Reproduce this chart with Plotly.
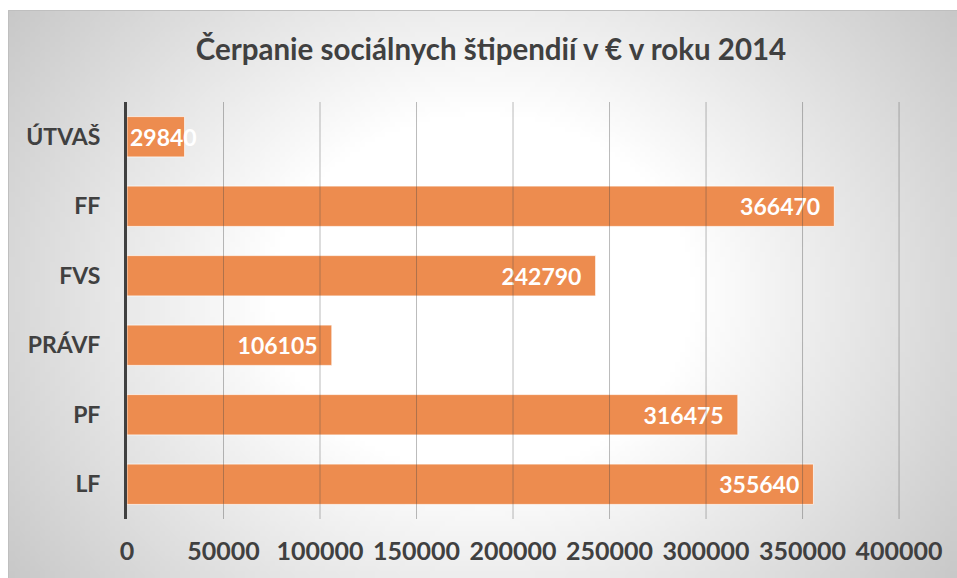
import zlib, struct, base64, math
import plotly.graph_objects as go

# ---- data ----
categories = ["ÚTVAŠ", "FF", "FVS", "PRÁVF", "PF", "LF"]
values = [29840, 366470, 242790, 106105, 316475, 355640]
tick_values = [0, 50000, 100000, 150000, 200000, 250000, 300000, 350000, 400000]
tick_labels = [str(v) for v in tick_values]
title_text = "Čerpanie sociálnych štipendií v € v roku 2014"

W, H = 957, 578
L = 127
T = 102
R = W - 928
B = H - 519
PW, PH = W - L - R, H - T - B

# ---- radial-gradient background as a small PNG ----
def png_uri(w, h, func):
    raw = bytearray()
    for j in range(h):
        raw.append(0)
        for i in range(w):
            v = func(i, j)
            raw += bytes((v, v, v))
    def chunk(t, d):
        c = struct.pack('>I', len(d)) + t + d
        return c + struct.pack('>I', zlib.crc32(t + d) & 0xffffffff)
    png = (b'\x89PNG\r\n\x1a\n'
           + chunk(b'IHDR', struct.pack('>IIBBBBB', w, h, 8, 2, 0, 0, 0))
           + chunk(b'IDAT', zlib.compress(bytes(raw), 9))
           + chunk(b'IEND', b''))
    return "data:image/png;base64," + base64.b64encode(png).decode()

gw, gh = 190, 114
def grad(i, j):
    x = (i + 0.5) / gw
    y = (j + 0.5) / gh
    dx = (x - 0.5) / 0.5
    dy = (y - 0.5) / 0.5 * 0.7
    r = math.sqrt(dx * dx + dy * dy)
    v = 255 - 71 * max(0.0, r - 0.45)
    return int(max(190, min(255, v)))

bg_uri = png_uri(gw, gh, grad)

# chart area in figure pixels
cx0, cy0, cx1, cy1 = 8, 10, W, H
def px2paper_x(p):
    return (p - L) / PW
def px2paper_y(p):
    return 1 - (p - T) / PH

font_family = "Lato, 'Open Sans', sans-serif"
txt_col = "#404040"
small = [v < 60000 for v in values]

fig = go.Figure()
fig.add_trace(go.Bar(
    y=categories, x=values, orientation="h",
    marker=dict(color="#ED8C4F", line=dict(color="rgba(255,255,255,0.7)", width=1)),
    width=0.58,
    text=["" if s else str(v) for v, s in zip(values, small)],
    texttemplate="%{text}\u00a0\u00a0",
    textposition="inside", insidetextanchor="end",
    constraintext="none", textangle=0,
    textfont=dict(family=font_family, size=23, color="white", weight="bold"),
    cliponaxis=False, hoverinfo="skip",
))
# labels that do not fit: anchored at the bar start
fig.add_trace(go.Bar(
    y=categories, x=values, orientation="h",
    marker=dict(color="rgba(0,0,0,0)", line=dict(width=0)),
    width=0.58,
    text=[str(v) if s else "" for v, s in zip(values, small)],
    texttemplate="%{text}",
    textposition="inside", insidetextanchor="start",
    constraintext="none", textangle=0,
    textfont=dict(family=font_family, size=23, color="white", weight="bold"),
    cliponaxis=False, hoverinfo="skip",
))

shapes = []
for tv in tick_values[1:]:
    shapes.append(dict(type="line", xref="x", yref="paper", x0=tv, x1=tv, y0=0, y1=1,
                       line=dict(color="rgba(70,70,70,0.37)", width=1), layer="above"))
shapes.append(dict(type="rect", xref="paper", yref="paper",
                   x0=px2paper_x(cx0 + 0.5), x1=px2paper_x(cx1 + 2),
                   y0=px2paper_y(cy1 + 2), y1=px2paper_y(cy0 + 0.5),
                   line=dict(color="#BFBFBF", width=1), layer="below"))

fig.update_layout(
    width=W, height=H,
    margin=dict(l=L, r=R, t=T, b=B, pad=0),
    paper_bgcolor="white", plot_bgcolor="rgba(0,0,0,0)",
    showlegend=False, barmode="overlay",
    title=dict(text=title_text, x=(491 - L) / PW, xref="paper", xanchor="center",
               y=1 - 50 / H, yanchor="middle",
               font=dict(family=font_family, size=29.5, color=txt_col, weight="bold")),
    images=[dict(source=bg_uri, xref="paper", yref="paper",
                 x=px2paper_x(cx0), y=px2paper_y(cy0),
                 sizex=(cx1 - cx0) / PW, sizey=(cy1 - cy0) / PH,
                 xanchor="left", yanchor="top", sizing="stretch", layer="below")],
    shapes=shapes,
    xaxis=dict(range=[0, 415000], tickvals=tick_values, ticktext=tick_labels,
               showgrid=False, zeroline=False, showline=False,
               ticks="", ticklen=0,
               tickfont=dict(family=font_family, size=25, color=txt_col, weight="bold"),
               ticklabelstandoff=15, fixedrange=True),
    yaxis=dict(autorange="reversed", showgrid=False, zeroline=False,
               showline=True, linecolor="#404040", linewidth=3,
               ticks="", ticklabelstandoff=19,
               tickfont=dict(family=font_family, size=23, color=txt_col, weight="bold"),
               fixedrange=True),
)

fig.write_html(
    "out.html",
    config={"displayModeBar": False},
    post_script="document.body.style.margin='0';document.body.style.overflow='hidden';",
)
